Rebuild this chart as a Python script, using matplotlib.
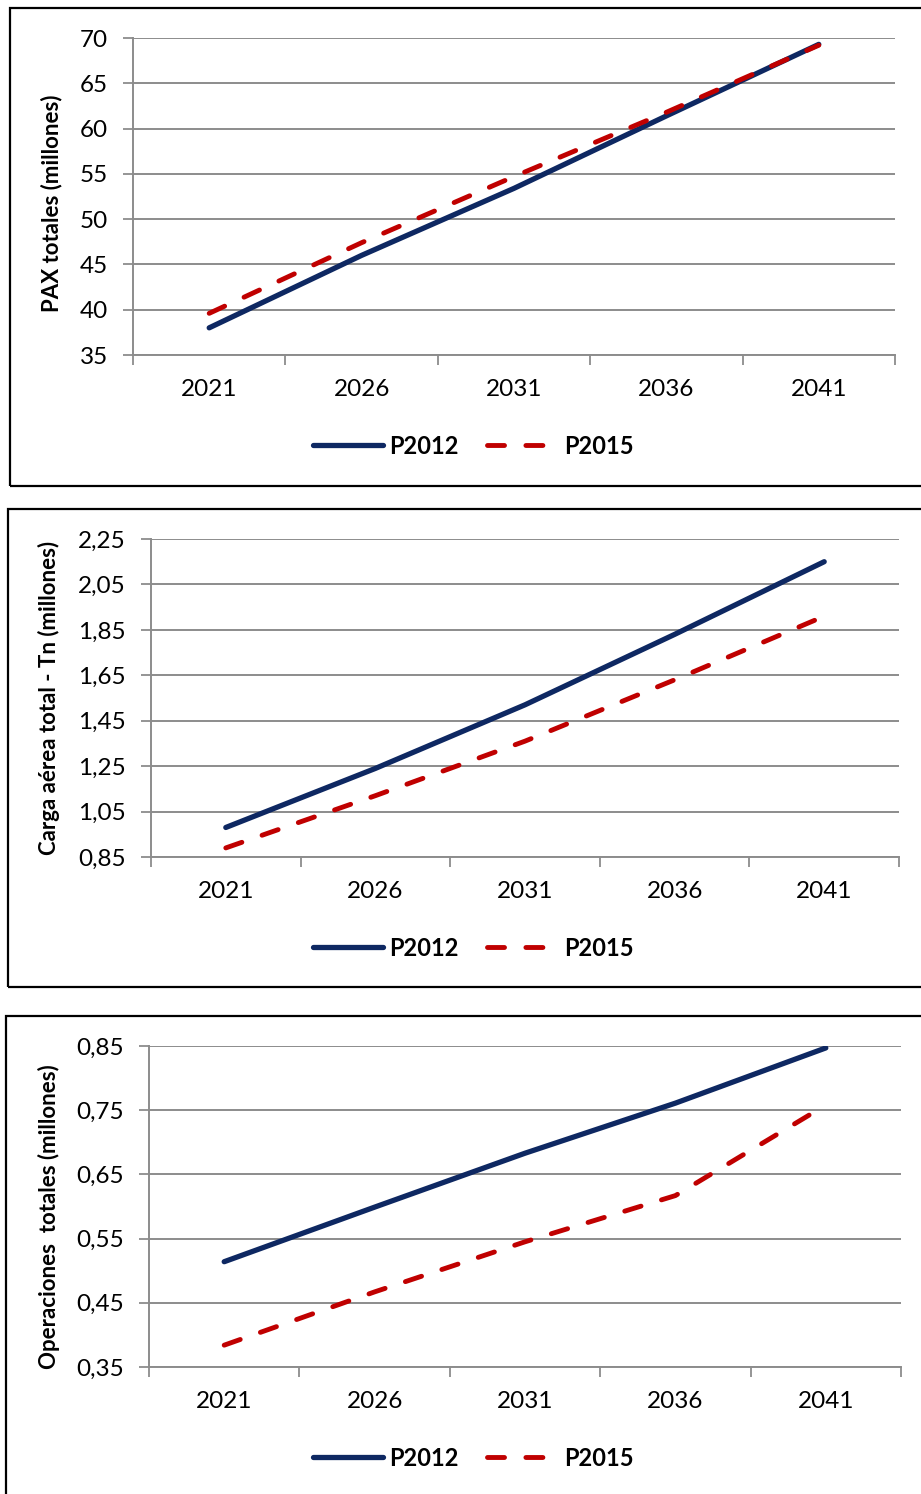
import matplotlib
matplotlib.use("Agg")
import matplotlib.pyplot as plt
from matplotlib.patches import Rectangle

plt.rcParams['font.family'] = ['Lato', 'DejaVu Sans']

years = ["2021", "2026", "2031", "2036", "2041"]

# Pasajeros totales (millones)
pax_p2012 = [38.0, 46.0, 53.4, 61.4, 69.3]
pax_p2015 = [39.6, 47.4, 54.7, 61.8, 69.2]
pax_ticks = [35, 40, 45, 50, 55, 60, 65, 70]
pax_labels = ["35", "40", "45", "50", "55", "60", "65", "70"]

# Carga aérea total (millones de toneladas)
carga_p2012 = [0.98, 1.24, 1.52, 1.83, 2.15]
carga_p2015 = [0.89, 1.12, 1.36, 1.63, 1.91]
carga_ticks = [0.85, 1.05, 1.25, 1.45, 1.65, 1.85, 2.05, 2.25]
carga_labels = ["0,85", "1,05", "1,25", "1,45", "1,65", "1,85", "2,05", "2,25"]

# Operaciones totales (millones)
ops_p2012 = [0.514, 0.599, 0.683, 0.761, 0.847]
ops_p2015 = [0.384, 0.467, 0.545, 0.617, 0.758]
ops_ticks = [0.35, 0.45, 0.55, 0.65, 0.75, 0.85]
ops_labels = ["0,35", "0,45", "0,55", "0,65", "0,75", "0,85"]

W, H = 921, 1494
fig = plt.figure(figsize=(W / 100, H / 100), dpi=100)

NAVY = "#0E2862"
RED = "#C00000"
GRID = "#8C8C8C"

panels = [
    dict(ax=(133, 38, 895, 355), box=(10, 8, 960, 486), legend_y=446,
         s1=pax_p2012, s2=pax_p2015, ticks=pax_ticks, labels=pax_labels,
         ylabel="PAX totales (millones)", ylabel_x=52, ylabel_y=203),
    dict(ax=(151, 539, 899, 857), box=(8, 509, 960, 987), legend_y=948,
         s1=carga_p2012, s2=carga_p2015, ticks=carga_ticks, labels=carga_labels,
         ylabel="Carga aérea total - Tn (millones)", ylabel_x=49, ylabel_y=698),
    dict(ax=(149, 1046, 901, 1367), box=(6, 1016, 960, 1540), legend_y=1458,
         s1=ops_p2012, s2=ops_p2015, ticks=ops_ticks, labels=ops_labels,
         ylabel="Operaciones  totales (millones)", ylabel_x=49, ylabel_y=1217),
]

x = list(range(len(years)))

for p in panels:
    l, t, r, b = p["ax"]
    ax = fig.add_axes([l / W, 1 - b / H, (r - l) / W, (b - t) / H])

    # frame around each chart
    bl, bt, br, bb = p["box"]
    fig.patches.append(Rectangle((bl / W, 1 - bb / H), (br - bl) / W, (bb - bt) / H,
                                 transform=fig.transFigure, fill=False,
                                 edgecolor="black", linewidth=1.6, clip_on=False))

    l1, = ax.plot(x, p["s1"], color=NAVY, lw=3.8, solid_capstyle="round",
                  solid_joinstyle="round", label="P2012", zorder=3)
    l2, = ax.plot(x, p["s2"], color=RED, lw=3.5, dashes=(3.5, 4.4),
                  dash_capstyle="round", dash_joinstyle="round", label="P2015", zorder=4)

    ax.set_xlim(-0.5, len(years) - 0.5)
    ax.set_ylim(p["ticks"][0], p["ticks"][-1])

    ax.set_yticks(p["ticks"])
    ax.set_yticklabels(p["labels"], fontsize=17.5)
    ax.set_xticks([i - 0.5 for i in range(len(years) + 1)])
    ax.set_xticklabels([])
    ax.set_xticks(x, minor=True)
    ax.set_xticklabels(years, minor=True, fontsize=17.5)
    ax.tick_params(axis="x", which="minor", length=0, pad=17)
    ax.tick_params(axis="x", which="major", length=7, width=1.3, color=GRID, direction="out")
    ax.tick_params(axis="y", length=7, width=1.3, color=GRID, direction="out", pad=11)

    ax.yaxis.grid(True, color=GRID, linewidth=1.4)
    ax.set_axisbelow(True)
    for side in ("top", "right"):
        ax.spines[side].set_visible(False)
    for side in ("left", "bottom"):
        ax.spines[side].set_color(GRID)
        ax.spines[side].set_linewidth(1.4)

    fig.text(p["ylabel_x"] / W, 1 - p["ylabel_y"] / H, p["ylabel"], rotation=90,
             ha="center", va="center", fontsize=16, fontweight="bold")

    ax.legend(handles=[l1, l2], loc="center", ncol=2,
              bbox_to_anchor=(473 / W, 1 - p["legend_y"] / H),
              bbox_transform=fig.transFigure, frameon=False,
              prop=dict(size=17, weight="bold"), handlelength=3.0,
              handletextpad=0.25, columnspacing=1.2, borderpad=0)

fig.savefig("out.png", dpi=100)
